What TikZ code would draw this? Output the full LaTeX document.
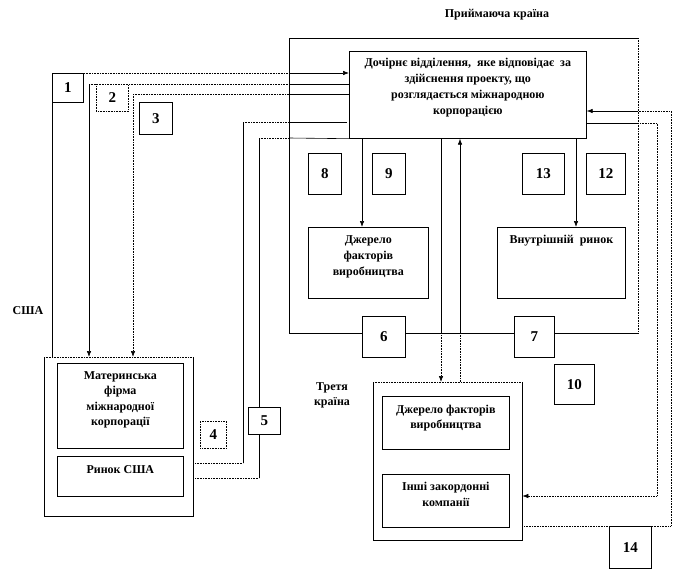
\documentclass[tikz,border=0pt]{standalone}
\usepackage{fontspec}
\setmainfont{Liberation Serif}
\usetikzlibrary{arrows.meta,positioning}
\tikzset{
  frame/.style={draw, line width=0.7pt, anchor=north west, inner sep=0pt},
  area/.style={anchor=north west, inner sep=0pt},
  numbox/.style 2 args={frame, fill=white, minimum width=#1, minimum height=#2,
    font=\fontsize{15}{15}\selectfont\bfseries},
  boxtext/.style={align=center, inner sep=0pt, font=\fontsize{12}{16}\selectfont\bfseries},
  line/.style={line width=0.6pt},
  dotline/.style={line width=0.6pt, dash pattern=on 0.8pt off 0.8pt},
  arr/.style={-{Latex[length=6pt,width=4.5pt]}},
}
\begin{document}
\begin{tikzpicture}[x=1pt, y=-1pt]
\useasboundingbox (0,0) rectangle (673,570);

% Country labels
\node[boxtext] (hostlabel) at (497,15) {Приймаюча країна};
\node[boxtext] (uslabel) at (28,311) {США};
\node[boxtext, font=\fontsize{12}{15}\selectfont\bfseries] (thirdlabel) at (332,395) {Третя\\країна};

% Host country
\node[area, minimum width=349, minimum height=295] (host) at (289,38) {};
\draw[line width=0.7pt] (host.north east) -- (host.north west) -- (host.south west) -- (host.south east);
\draw[dotline] (host.south east) -- (host.north east);
\node[frame, minimum width=237, minimum height=87] (sub) at (349,51) {};
\node[boxtext, below=7pt of sub.north] (subtext) {Дочірнє відділення,\ \ яке відповідає\ \ за\\здійснення проекту, що\\розглядається міжнародною\\корпорацією};
\node[frame, minimum width=120, minimum height=71] (srcH) at (308,227) {};
\node[boxtext, below=8pt of srcH.north] (srcHtext) {Джерело\\факторів\\виробництва};
\node[frame, minimum width=128, minimum height=71] (mkt) at (497,227) {};
\node[boxtext, below=8pt of mkt.north] (mkttext) {Внутрішній\ \ ринок};

% USA
\node[area, minimum width=149, minimum height=159] (par) at (44,357) {};
\draw[line width=0.7pt] (par.north west) -- (par.south west) -- (par.south east) -- (par.north east);
\draw[dotline] (par.north west) -- (par.north east);
\node[frame, minimum width=126, minimum height=85] (mother) at (57,363) {};
\node[boxtext, below=8pt of mother.north, font=\fontsize{12}{15.5}\selectfont\bfseries] (mothertext) {Материнська\\фірма\\міжнародної\\корпорації};
\node[frame, minimum width=126, minimum height=40] (mktUS) at (57,456) {};
\node[boxtext, below=9pt of mktUS.north] (mktUStext) {Ринок США};

% Third country
\node[area, minimum width=149, minimum height=158] (third) at (373,382) {};
\draw[line width=0.7pt] (third.north west) -- (third.south west) -- (third.south east) -- (third.north east);
\draw[dotline] (third.north west) -- (third.north east);
\node[frame, minimum width=127, minimum height=53] (srcT) at (382,396) {};
\node[boxtext, below=9pt of srcT.north, font=\fontsize{12}{14.5}\selectfont\bfseries] (srcTtext) {Джерело факторів\\виробництва};
\node[frame, minimum width=127, minimum height=53] (other) at (382,474) {};
\node[boxtext, below=8pt of other.north] (othertext) {Інші закордонні\\компанії};

% Bends of the connectors
\coordinate (c1) at (52,73);
\coordinate (c2) at (89,84);
\coordinate (c3) at (133,94);
\coordinate (c4) at (243,122);
\coordinate (c5) at (259,138);
\coordinate (d4) at (243,463);
\coordinate (d5) at (259,478);
\coordinate (r1) at (671,111);
\coordinate (r2) at (657,123);

% Parent firm and subsidiary
\draw[line] (c1 |- par.north) -- (c1);
\draw[dotline] (c1) -- (c1 -| host.west);
\draw[line, arr] (c1 -| host.west) -- (c1 -| sub.west);
\draw[line, arr] (c2) -- (c2 |- par.north);
\draw[dotline] (c2) -- (c2 -| host.west);
\draw[line] (c2 -| host.west) -- (c2 -| sub.west);
\draw[dotline, arr] (c3) -- (c3 |- par.north);
\draw[dotline] (c3) -- (c3 -| host.west);
\draw[line] (c3 -| host.west) -- (c3 -| sub.west);

% US market and subsidiary
\draw[dotline] (d4 -| par.east) -- (d4);
\draw[line] (d4) -- (c4);
\draw[dotline] (c4) -- (c4 -| host.west);
\draw[line] (c4 -| host.west) -- ([xshift=-2pt]c4 -| sub.west);
\draw[dotline] (d5 -| par.east) -- (d5);
\draw[line] (d5) -- (c5);
\draw[dotline] (c5) -- (c5 -| host.west);
\draw[line] (c5 -| host.west) -- (sub.south west);

% Inside the host country
\draw[line, arr] (sub.south -| 362,0) -- (srcH.north -| 362,0);
\draw[line, arr] (sub.south -| 576,0) -- (mkt.north -| 576,0);
\draw[line] (sub.south -| 441,0) -- (host.south -| 441,0);
\draw[dotline, arr] (host.south -| 441,0) -- (third.north -| 441,0);
\draw[dotline] (third.north -| 460,0) -- (host.south -| 460,0);
\draw[line, arr] (host.south -| 460,0) -- (sub.south -| 460,0);

% Third country and subsidiary
\draw[dotline] (third.east |- 0,526) -- (r1 |- 0,526) -- (r1) -- (r1 -| host.east);
\draw[line, arr] (r1 -| host.east) -- (r1 -| sub.east);
\draw[line] (r2 -| sub.east) -- (r2 -| host.east);
\draw[dotline, arr] (r2 -| host.east) -- (r2) -- (r2 |- 0,496) -- (third.east |- 0,496);

% Numbered boxes
\node[numbox={31}{29}] (n1) at (52,73) {1};
\node[numbox={32}{27}, dotline] (n2) at (96,84) {2};
\node[numbox={33}{32}] (n3) at (139,102) {3};
\node[numbox={26}{27}, dotline] (n4) at (200,421) {4};
\node[numbox={32}{27}] (n5) at (248,407) {5};
\node[numbox={43}{41}] (n6) at (362,316) {6};
\node[numbox={40}{41}] (n7) at (514,316) {7};
\node[numbox={33}{41}] (n8) at (308,153) {8};
\node[numbox={33}{41}] (n9) at (372,153) {9};
\node[numbox={40}{40}] (n10) at (554,364) {10};
\node[numbox={39}{41}] (n12) at (586,153) {12};
\node[numbox={42}{41}] (n13) at (522,153) {13};
\node[numbox={42}{42}] (n14) at (609,526) {14};

\end{tikzpicture}
\end{document}
